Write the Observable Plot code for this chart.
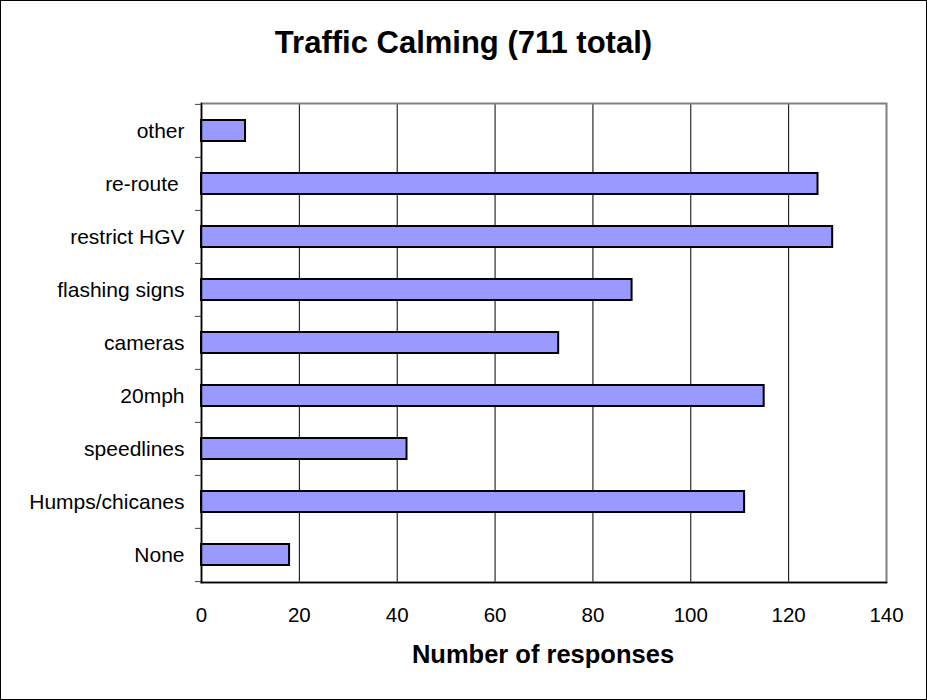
<!DOCTYPE html>
<html>
<head>
<meta charset="utf-8">
<script src="https://cdn.jsdelivr.net/npm/d3@7"></script>
<script src="https://cdn.jsdelivr.net/npm/@observablehq/plot@0.6"></script>
<style>
  html, body { margin: 0; padding: 0; background: white; }
  #wrap { position: relative; width: 927px; height: 700px; box-sizing: border-box; border: 1px solid black; overflow: hidden; background: white; font-family: "Liberation Sans", Arial, sans-serif; }
  #title { height: 89px; box-sizing: border-box; padding-top: 26px; text-align: center; font-weight: bold; font-size: 31px; line-height: 31px; color: black; }
  #xlabel { position: absolute; left: 342px; width: 400px; top: 641px; text-align: center; font-weight: bold; font-size: 25.5px; line-height: 25.5px; color: black; }
  #chart svg { display: block; }
  #chart svg text { white-space: pre; }
</style>
</head>
<body>
<div id="wrap">
  <div id="title">Traffic Calming (711 total)</div>
  <div id="chart"></div>
  <div id="xlabel">Number of responses</div>
</div>
<script>
const categories = ["other", "re-route ", "restrict HGV", "flashing signs", "cameras", "20mph", "speedlines", "Humps/chicanes", "None"];
const values = [9, 126, 129, 88, 73, 115, 42, 111, 18];
const xTicks = [0, 20, 40, 60, 80, 100, 120, 140];

const data = categories.map((c, i) => ({category: c, value: values[i]}));

const W = 925, H = 609, mT = 13, mB = 117, mL = 200, mR = 40;
const step = (H - mT - mB) / categories.length;

const chart = Plot.plot({
  width: W,
  height: H,
  marginLeft: mL,
  marginRight: mR,
  marginTop: mT,
  marginBottom: mB,
  style: {fontFamily: "'Liberation Sans', Arial, sans-serif", fontSize: "21px", color: "black", background: "white"},
  x: {domain: [0, 140], ticks: xTicks},
  y: {domain: categories, paddingInner: 0.6, paddingOuter: 0.3},
  marks: [
    Plot.gridX(xTicks, {stroke: "black", strokeOpacity: 1, strokeWidth: 1}),
    Plot.frame({stroke: "#808080", strokeWidth: 2}),
    Plot.barX(data, {x: "value", y: "category", fill: "#9999ff", stroke: "black", strokeWidth: 2}),
    Plot.axisX(xTicks, {tickSize: 0, tickPadding: 25, label: null, fontSize: 20.5, fill: "black"}),
    Plot.axisY({tickSize: 0, tickPadding: 17, label: null, fontSize: 21, fill: "black"}),
    Plot.axisY({tickSize: 6, text: null, label: null, dy: -step / 2, stroke: "#404040", strokeOpacity: 1}),
    Plot.axisY([categories[categories.length - 1]], {tickSize: 6, text: null, label: null, dy: step / 2, stroke: "#404040", strokeOpacity: 1}),
    Plot.frame({anchor: "left", stroke: "black", strokeWidth: 1.5}),
    Plot.frame({anchor: "bottom", stroke: "black", strokeWidth: 1.5})
  ]
});
document.getElementById("chart").appendChild(chart);
</script>
</body>
</html>
